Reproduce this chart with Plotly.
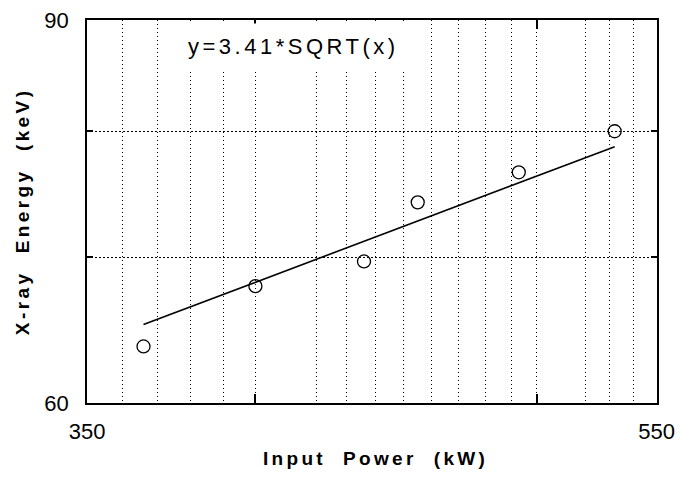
"""
X-ray energy vs input power, log-log with a square-root fit.
"""

import plotly.graph_objects as go

power_kw = [366, 400, 436, 455, 493, 532]
energy_kev = [63.7, 67.9, 69.7, 74.2, 76.6, 80.0]

# fit line y=3.41*sqrt(x), end points
fit_x = [366, 532]
fit_y = [65.2, 78.7]

x_ticks = [350, 400, 500, 550]
x_ticktext = ["350", "", "", "550"]
x_minor_grid = [360, 370, 380, 390, 420, 430, 440, 450, 460, 470, 480, 490, 520, 530, 540]
y_ticks = [60, 70, 80, 90]
y_ticktext = ["60", "", "", "90"]

FONT = "Liberation Sans, Arial, Helvetica, sans-serif"
SP = "\u00a0\u00a0"


def spaced(text, px):
    return f'<span style="letter-spacing:{px}px">{text}</span>'


fig = go.Figure()

fig.add_trace(go.Scatter(
    x=fit_x, y=fit_y, mode="lines",
    line=dict(color="black", width=1.6),
    showlegend=False, hoverinfo="skip",
))

fig.add_trace(go.Scatter(
    x=power_kw, y=energy_kev, mode="markers",
    marker=dict(symbol="circle-open", size=13, color="black", line=dict(width=1.3)),
    showlegend=False,
))

# fit label with a white box over the grid
fig.add_annotation(
    text=spaced("y=3.41*SQRT(x)", 3.5),
    xref="paper", yref="paper", x=0.363, y=0.93,
    xanchor="center", yanchor="middle",
    showarrow=False, bgcolor="white", borderpad=10,
    font=dict(family=FONT, size=22, color="black"),
)

# axis titles as annotations so the margins stay fixed
title_font = dict(family=FONT, size=19, color="black", weight="bold")
fig.add_annotation(
    text=spaced(f"Input{SP}Power{SP}(kW)", 3.3),
    xref="paper", yref="paper", x=0.507, y=-0.146,
    xanchor="center", yanchor="middle",
    showarrow=False, font=title_font,
)
fig.add_annotation(
    text=spaced(f"X-ray{SP}Energy{SP}(keV)", 3.4),
    xref="paper", yref="paper", x=-0.114, y=0.501, textangle=-90,
    xanchor="center", yanchor="middle",
    showarrow=False, font=title_font,
)

fig.update_xaxes(
    type="log", range=[2.5440, 2.7405],
    tickvals=x_ticks, ticktext=x_ticktext,
    ticks="inside", ticklen=9, tickwidth=1.5, tickcolor="black",
    showline=True, linecolor="black", linewidth=1.5, mirror="ticks",
    showgrid=True, gridcolor="black", gridwidth=1, griddash="1px,3px",
    minor=dict(tickvals=x_minor_grid, showgrid=True, gridcolor="black",
               gridwidth=1, griddash="1px,3px", ticks=""),
    tickfont=dict(family=FONT, size=22, color="black"),
    ticklabelstandoff=8, ticklabeloverflow="allow",
    automargin=False, zeroline=False,
)

fig.update_yaxes(
    type="log", range=[1.77815, 1.95424],
    tickvals=y_ticks, ticktext=y_ticktext,
    ticks="inside", ticklen=6, tickwidth=1.5, tickcolor="black",
    showline=True, linecolor="black", linewidth=1.5, mirror="ticks",
    showgrid=True, gridcolor="black", gridwidth=1, griddash="2px,2px",
    tickfont=dict(family=FONT, size=22, color="black"),
    ticklabelstandoff=12, ticklabeloverflow="allow",
    automargin=False, zeroline=False,
)

# the page body has an 8px margin, so the margins are shifted to compensate
fig.update_layout(
    width=696, height=477,
    margin=dict(l=79, r=47, t=12, b=82),
    plot_bgcolor="white", paper_bgcolor="white",
    font=dict(family=FONT, color="black"),
)

fig.write_html("out.html")
